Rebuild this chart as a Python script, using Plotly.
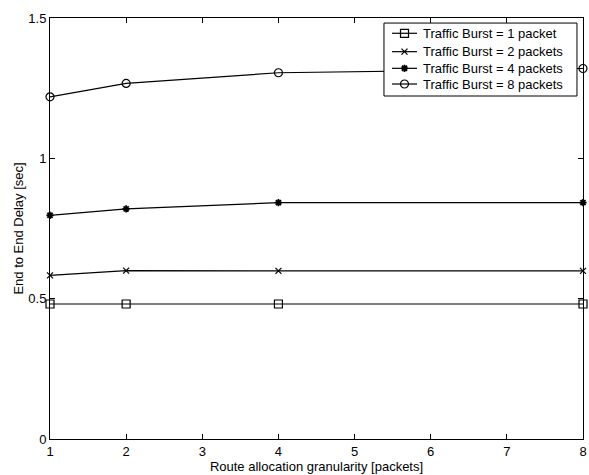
import plotly.graph_objects as go

x_vals = [1, 2, 4, 8]
burst1 = [0.481, 0.481, 0.481, 0.481]
burst2 = [0.583, 0.600, 0.599, 0.599]
burst4 = [0.797, 0.820, 0.842, 0.842]
burst8 = [1.219, 1.267, 1.305, 1.320]
names = ["Traffic Burst = 1 packet", "Traffic Burst = 2 packets",
         "Traffic Burst = 4 packets", "Traffic Burst = 8 packets"]
x_ticks = [1, 2, 3, 4, 5, 6, 7, 8]
y_ticks = [0, 0.5, 1, 1.5]
y_tick_labels = ["0", "0.5", "1", "1.5"]

series = [burst1, burst2, burst4, burst8]
markers = [
    dict(symbol="square-open", size=8, color="black", line=dict(width=1.2, color="black")),
    dict(symbol="x-thin-open", size=6, color="black", line=dict(width=1.2, color="black")),
    dict(symbol="asterisk-open", size=6, color="black", line=dict(width=1.8, color="black")),
    dict(symbol="circle-open", size=8, color="black", line=dict(width=1.2, color="black")),
]

FONT = "Liberation Sans, Arial, sans-serif"
FS = 13

fig = go.Figure()
for ys, nm, mk in zip(series, names, markers):
    fig.add_trace(go.Scatter(x=x_vals, y=ys, name=nm, mode="lines+markers",
                             line=dict(color="black", width=1.2), marker=mk,
                             cliponaxis=False, showlegend=False))

# --- legend drawn in plot-area fractions on a hidden overlay axis pair ---
box_l, box_r, box_t, box_b = 0.6266, 0.9887, 0.988, 0.8147
row_y = [0.9637, 0.9200, 0.8805, 0.8432]
samp_l, samp_r, samp_c, text_x = 0.6417, 0.6886, 0.6651, 0.6960

fig.add_trace(go.Scatter(x=[box_l, box_r, box_r, box_l, box_l],
                         y=[box_t, box_t, box_b, box_b, box_t],
                         mode="lines", fill="toself", fillcolor="white",
                         line=dict(color="black", width=1),
                         xaxis="x2", yaxis="y2", showlegend=False, hoverinfo="skip"))
for ry, nm, mk in zip(row_y, names, markers):
    fig.add_trace(go.Scatter(x=[samp_l, samp_r], y=[ry, ry], mode="lines",
                             line=dict(color="black", width=1.2),
                             xaxis="x2", yaxis="y2", showlegend=False, hoverinfo="skip"))
    fig.add_trace(go.Scatter(x=[samp_c], y=[ry], mode="markers", marker=mk,
                             xaxis="x2", yaxis="y2", showlegend=False, hoverinfo="skip"))
    fig.add_annotation(x=text_x, y=ry, xref="paper", yref="paper", text=nm,
                       showarrow=False, xanchor="left", yanchor="middle",
                       font=dict(family=FONT, size=FS, color="black"))

axis_common = dict(showline=True, linecolor="black", linewidth=1, mirror="ticks",
                   ticks="inside", ticklen=5, tickcolor="black", showgrid=False,
                   zeroline=False, automargin=False,
                   tickfont=dict(size=FS, color="black"))

fig.update_layout(
    width=589, height=475,
    margin=dict(l=50, r=6, t=18, b=36),
    paper_bgcolor="white", plot_bgcolor="white",
    font=dict(family=FONT, size=FS, color="black"),
    xaxis=dict(range=[1, 8], tickvals=x_ticks,
               title=dict(text="Route allocation granularity [packets]", standoff=1,
                          font=dict(size=FS)), **axis_common),
    yaxis=dict(range=[0, 1.5], tickvals=y_ticks, ticktext=y_tick_labels,
               title=dict(text="End to End Delay [sec]", standoff=1, font=dict(size=FS)),
               **axis_common),
    xaxis2=dict(range=[0, 1], overlaying="x", anchor="y2", visible=False, fixedrange=True),
    yaxis2=dict(range=[0, 1], overlaying="y", anchor="x2", visible=False, fixedrange=True),
    showlegend=False,
)

fig.write_html("out.html", post_script="document.body.style.margin='0';",
               config={"displayModeBar": False})
